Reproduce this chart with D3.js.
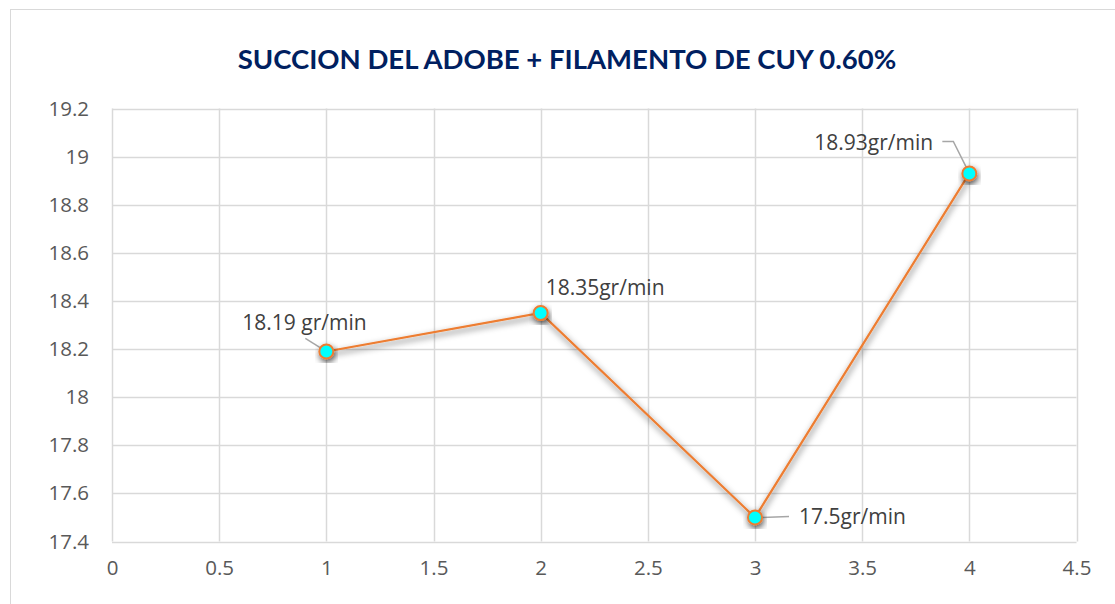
<!DOCTYPE html>
<html lang="es">
<head>
<meta charset="UTF-8" />
<title>Succion del adobe</title>
<script src="https://cdn.jsdelivr.net/npm/d3@7"></script>
<style>
  body { margin: 0; background: #fff; }
  text { font-family: "Open Sans", "Noto Sans", sans-serif; }
</style>
</head>
<body>
<div id="chart"></div>
<script>
  // datos
  var ensayos = [1, 2, 3, 4];
  var succion = [18.19, 18.35, 17.5, 18.93];
  var etiquetas = ["18.19 gr/min", "18.35gr/min", "17.5gr/min", "18.93gr/min"];
  var xTicks = [0, 0.5, 1, 1.5, 2, 2.5, 3, 3.5, 4, 4.5];
  var yTicks = [17.4, 17.6, 17.8, 18, 18.2, 18.4, 18.6, 18.8, 19, 19.2];

  var width = 1115, height = 604;
  var margin = { top: 108.5, right: 38.5, bottom: 62.5, left: 112 };

  var svg = d3.select("#chart").append("svg")
    .attr("width", width).attr("height", height);

  // marco del grafico
  svg.append("rect")
    .attr("x", 10.5).attr("y", 9.5)
    .attr("width", 1120).attr("height", 620)
    .attr("fill", "#fff").attr("stroke", "#d9d9d9");

  var defs = svg.append("defs");
  var f = defs.append("filter").attr("id", "sombra")
    .attr("x", "-30%").attr("y", "-30%").attr("width", "160%").attr("height", "160%");
  f.append("feDropShadow").attr("dx", 1).attr("dy", 3).attr("stdDeviation", 3)
    .attr("flood-color", "#000").attr("flood-opacity", 0.65);

  var x = d3.scaleLinear().domain([0, 4.5]).range([margin.left, width - margin.right]);
  var y = d3.scaleLinear().domain([17.4, 19.2]).range([height - margin.bottom, margin.top]);

  // rejilla
  svg.append("g").selectAll("line").data(xTicks).enter().append("line")
    .attr("x1", function(d){ return Math.round(x(d)) + 0.5; })
    .attr("x2", function(d){ return Math.round(x(d)) + 0.5; })
    .attr("y1", y(19.2)).attr("y2", y(17.4))
    .attr("stroke", "#d9d9d9").attr("stroke-width", 1.5);
  svg.append("g").selectAll("line").data(yTicks).enter().append("line")
    .attr("y1", function(d){ return Math.round(y(d)) + 0.5; })
    .attr("y2", function(d){ return Math.round(y(d)) + 0.5; })
    .attr("x1", x(0)).attr("x2", x(4.5))
    .attr("stroke", "#d9d9d9").attr("stroke-width", 1.5);

  // ejes
  var xAxis = d3.axisBottom(x).tickValues(xTicks).tickSize(0).tickPadding(19)
    .tickFormat(function(d){ return String(d); });
  var gx = svg.append("g").attr("transform", "translate(0," + y(17.4) + ")").call(xAxis);
  gx.select(".domain").remove();
  gx.selectAll("text").attr("font-size", 20.5).attr("fill", "#595959")
    .style("font-family", "'Open Sans', sans-serif");

  var yAxis = d3.axisLeft(y).tickValues(yTicks).tickSize(0).tickPadding(23)
    .tickFormat(function(d){ return String(+d.toFixed(1)); });
  var gy = svg.append("g").attr("transform", "translate(" + x(0) + ",0)").call(yAxis);
  gy.select(".domain").remove();
  gy.selectAll("text").attr("font-size", 20.5).attr("fill", "#595959")
    .style("font-family", "'Open Sans', sans-serif");

  // titulo
  var titulo = svg.append("text")
    .attr("x", 567).attr("y", 69)
    .attr("text-anchor", "middle")
    .attr("font-size", 26).attr("font-weight", "bold")
    .attr("fill", "#002060")
    .style("font-family", "Lato, 'Open Sans', sans-serif")
    .text("SUCCION DEL ADOBE + FILAMENTO DE CUY 0.60%");
  var tw = titulo.node().getComputedTextLength();
  titulo.attr("font-size", 26 * 659 / tw);

  var datos = ensayos.map(function(d, i){
    return { x: d, y: succion[i], label: etiquetas[i] };
  });

  // linea
  var linea = d3.line().x(function(d){ return x(d.x); }).y(function(d){ return y(d.y); });
  svg.append("path").datum(datos)
    .attr("d", linea)
    .attr("fill", "none")
    .attr("stroke", "#ed7d31").attr("stroke-width", 2.2)
    .attr("filter", "url(#sombra)");

  // lineas guia de las etiquetas (desplazamientos respecto al punto)
  var guias = [
    [[-21, -13], [-5, -3]],
    null,
    [[6, 0], [34, -1]],
    [[-27, -32], [-16, -32], [-2, -4]]
  ];
  datos.forEach(function(d, i){
    if (!guias[i]) return;
    var pts = guias[i].map(function(p){ return [x(d.x) + p[0], y(d.y) + p[1]]; });
    svg.append("path").attr("d", d3.line()(pts))
      .attr("fill", "none").attr("stroke", "#a6a6a6").attr("stroke-width", 1.5);
  });

  // marcadores
  svg.selectAll("circle").data(datos).enter().append("circle")
    .attr("cx", function(d){ return x(d.x); })
    .attr("cy", function(d){ return y(d.y); })
    .attr("r", 7)
    .attr("fill", "#00ffff")
    .attr("stroke", "#ed7d31").attr("stroke-width", 2)
    .attr("filter", "url(#sombra)");

  // etiquetas de datos
  var offs = [[-84, -21], [5, -18], [44, 7], [-155, -23]];
  svg.selectAll("text.etq").data(datos).enter().append("text")
    .attr("class", "etq")
    .attr("x", function(d, i){ return x(d.x) + offs[i][0]; })
    .attr("y", function(d, i){ return y(d.y) + offs[i][1]; })
    .attr("font-size", 21).attr("fill", "#404040")
    .text(function(d){ return d.label; });
</script>
</body>
</html>
